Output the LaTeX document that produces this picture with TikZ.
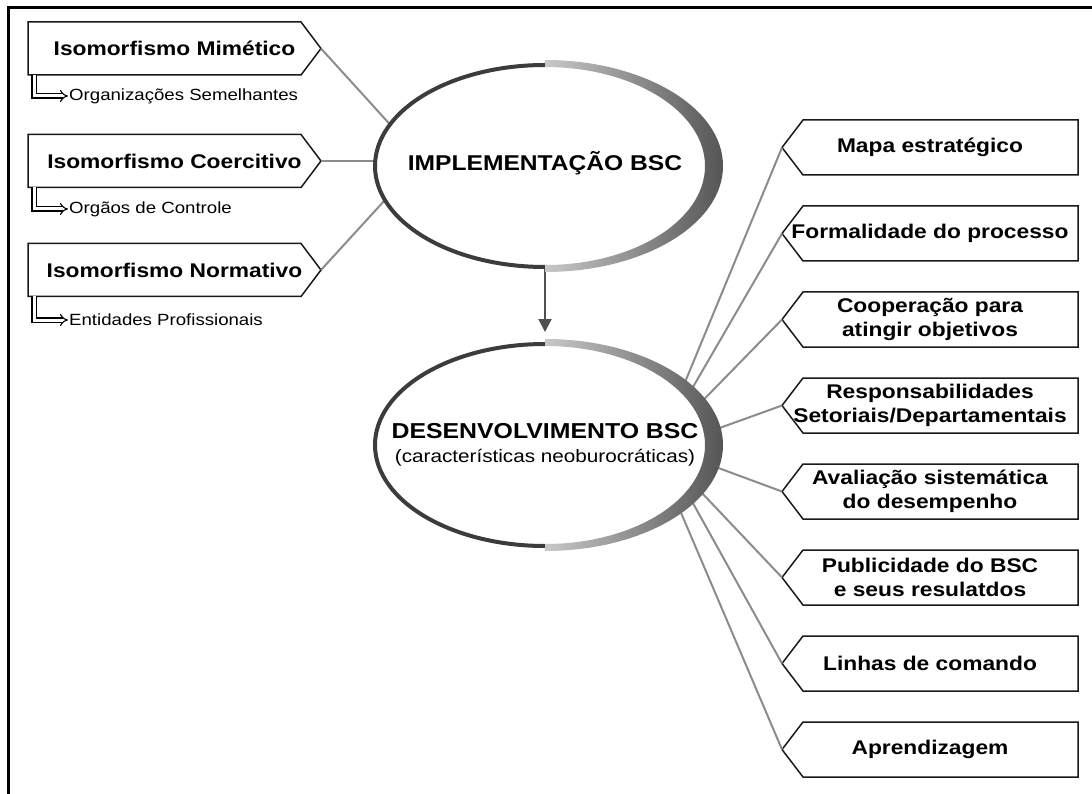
\documentclass[tikz,border=0pt]{standalone}
\usepackage{fontspec}
\setmainfont{Liberation Sans}[FakeStretch=1.15]
\usetikzlibrary{shapes.geometric,arrows.meta,calc}
\definecolor{lightc}{RGB}{200,200,200}
\definecolor{darkc}{RGB}{85,85,85}
\definecolor{ringc}{RGB}{60,60,60}
\definecolor{linkc}{RGB}{140,140,140}
\definecolor{arrc}{RGB}{80,80,80}
\newcommand{\mkLbox}[1]{\draw[boxline] (#1.north west) -- ($(#1.north east)+(-20,0)$) -- (#1.east) -- ($(#1.south east)+(-20,0)$) -- (#1.south west) -- cycle;}
\newcommand{\mkRbox}[1]{\draw[boxline] (#1.north east) -- ($(#1.north west)+(21,0)$) -- (#1.west) -- ($(#1.south west)+(21,0)$) -- (#1.south east) -- cycle;}
\newcommand{\mkRing}[1]{%
  \draw[line width=4pt, draw=ringc] ($(#1.center)+(0,-101)$) arc[start angle=90, end angle=270, x radius=170pt, y radius=101pt];
  \shade[left color=lightc, right color=darkc] ($(#1.center)+(0,-106)$) arc[start angle=90, end angle=-90, x radius=178pt, y radius=106pt] -- ($(#1.center)+(0,99)$) arc[start angle=-90, end angle=90, x radius=160pt, y radius=99pt] -- cycle;}
\tikzset{
  boxline/.style={line width=1.5pt, draw=black!90},
  lbox/.style={minimum width=293pt, minimum height=53pt, inner sep=0pt, outer sep=0pt, align=center, font=\bfseries\fontsize{19.8}{24}\selectfont},
  rbox/.style={minimum width=296pt, minimum height=55pt, inner sep=0pt, outer sep=0pt, align=center, font=\bfseries\fontsize{19.8}{24}\selectfont},
  subt/.style={inner sep=1pt, anchor=west, font=\fontsize{16.2}{19}\selectfont},
  dblarrow/.style={double, double distance=3pt, line width=1.1pt, -{Implies}},
  link/.style={line width=2pt, draw=linkc},
  ringnode/.style={ellipse, minimum width=340pt, minimum height=202pt, inner sep=0pt, outer sep=0pt},
}
\begin{document}
\begin{tikzpicture}[x=1pt, y=-1pt]
\useasboundingbox (0,0) rectangle (1092,794);
\fill[white] (0,0) rectangle (1092,794);
% frame (top and left only)
\draw[line width=3pt] (8,794) -- (8,7.5) -- (1092,7.5);

% ellipse anchors
\node[ringnode] (e1) at (545,166) {};
\node[ringnode] (e2) at (545,445) {};

% left boxes
\node[lbox] (m1) at (174.5,48.5) {Isomorfismo Mimético};
\node[lbox] (c1) at (174.5,161) {Isomorfismo Coercitivo};
\node[lbox] (n1) at (174.5,270) {Isomorfismo Normativo};
\mkLbox{m1}\mkLbox{c1}\mkLbox{n1}
\node[subt] (o1) at (68,96) {Organizações Semelhantes};
\node[subt] (o2) at (68,209) {Orgãos de Controle};
\node[subt] (o3) at (68,320) {Entidades Profissionais};
\draw[dblarrow] ($(m1.south west)+(6,0)$) |- (o1.west);
\draw[dblarrow] ($(c1.south west)+(6,0)$) |- (o2.west);
\draw[dblarrow] ($(n1.south west)+(6,0)$) |- (o3.west);

% right boxes
\node[rbox] (r1) at (930,147.5) {Mapa estratégico};
\node[rbox] (r2) at (930,233.5) {Formalidade do processo};
\node[rbox] (r3) at (930,319.5) {Cooperação para\\atingir objetivos};
\node[rbox] (r4) at (930,405.5) {Responsabilidades\\Setoriais/Departamentais};
\node[rbox] (r5) at (930,491.5) {Avaliação sistemática\\do desempenho};
\node[rbox] (r6) at (930,577.5) {Publicidade do BSC\\e seus resulatdos};
\node[rbox] (r7) at (930,663.5) {Linhas de comando};
\node[rbox] (r8) at (930,749.5) {Aprendizagem};
\foreach \r in {r1,r2,r3,r4,r5,r6,r7,r8} {\mkRbox{\r}}

% connectors
\draw[link] (m1.east) -- (e1.165);
\draw[link] (c1.east) -- (c1.east -| e1.west);
\draw[link] (n1.east) -- (e1.192);
\draw[link] (e2.23) -- (r1.west);
\draw[link] (e2.20.4) -- (r2.west);
\draw[link] (e2.15.4) -- (r3.west);
\draw[link] (e2.5.8) -- (r4.west);
\draw[link] (e2.-7.1) -- (r5.west);
\draw[link] (e2.-16.4) -- (r6.west);
\draw[link] (e2.-20.8) -- (r7.west);
\draw[link] (e2.-25.1) -- (r8.west);
\draw[line width=2pt, draw=arrc, shorten >=12pt, -{Triangle[length=13pt, width=13pt]}] (e1.south) -- (e2.north);

% rings
\mkRing{e1}
\mkRing{e2}

% ellipse texts
\node[font=\bfseries\fontsize{21.4}{25}\selectfont] (t1) at (545,163) {IMPLEMENTAÇÃO BSC};
\node[align=center, font=\fontsize{18}{24}\selectfont] (t2) at (545,445) {{\bfseries\fontsize{21.6}{24}\selectfont DESENVOLVIMENTO BSC}\\(características neoburocráticas)};
\end{tikzpicture}
\end{document}
